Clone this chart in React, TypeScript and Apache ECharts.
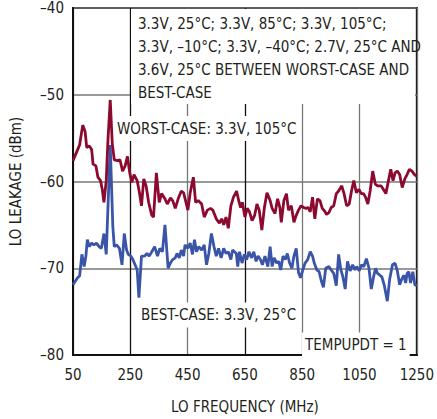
import React, { useEffect, useRef } from "react";
import * as echarts from "echarts";

const xTicks = [50, 250, 450, 650, 850, 1050, 1250];
const yTicks = [-80, -70, -60, -50, -40];

const worstFreq = [50, 64, 73, 84, 92, 98, 107, 115, 120, 130, 137, 146, 152, 158, 166, 172, 180, 187, 194, 206, 214, 223, 232, 240, 248, 255, 263, 274, 282, 289, 297, 305, 314, 325, 331, 341, 351, 359, 371, 379, 390, 398, 407, 417, 428, 436, 451, 459, 470, 478, 487, 499, 508, 519, 530, 538, 550, 561, 569, 576, 584, 592, 601, 610, 621, 629, 635, 641, 650, 658, 666, 675, 684, 692, 700, 709, 718, 727, 738, 745, 755, 764, 772, 777, 786, 795, 802, 812, 821, 829, 837, 846, 855, 863, 871, 878, 886, 894, 903, 912, 920, 928, 935, 943, 951, 960, 969, 977, 988, 996, 1005, 1014, 1022, 1030, 1039, 1048, 1056, 1064, 1071, 1079, 1087, 1096, 1105, 1113, 1125, 1133, 1142, 1151, 1159, 1167, 1174, 1182, 1190, 1199, 1208, 1216, 1224, 1233, 1242, 1250];
const worstLeak = [-57.6, -56.5, -55.8, -53.5, -54.2, -56.1, -55.9, -56.3, -58.0, -58.2, -59.5, -59.9, -60.9, -62.4, -59.9, -55.2, -50.6, -55.6, -57.5, -57.6, -57.5, -58.8, -58.2, -57.1, -59.0, -60.1, -59.2, -59.9, -61.3, -62.8, -59.7, -60.5, -62.4, -63.9, -64.1, -59.0, -62.4, -61.4, -62.0, -62.6, -61.9, -62.2, -63.1, -62.0, -61.1, -61.3, -63.3, -61.3, -59.5, -62.4, -62.2, -62.6, -64.1, -63.3, -63.1, -63.3, -64.3, -64.8, -64.3, -65.0, -64.1, -65.4, -62.8, -61.8, -61.1, -62.3, -63.0, -62.4, -64.1, -63.1, -63.5, -64.5, -63.9, -62.6, -63.3, -65.6, -63.0, -61.3, -62.2, -63.1, -63.7, -62.0, -63.0, -64.7, -62.2, -61.4, -63.3, -62.8, -64.7, -63.9, -63.3, -62.8, -63.0, -63.1, -63.0, -63.5, -61.8, -64.3, -62.0, -62.2, -63.1, -63.4, -63.8, -63.6, -63.0, -62.8, -61.4, -61.1, -60.5, -61.4, -62.8, -62.6, -61.1, -59.9, -61.3, -60.9, -61.4, -61.4, -61.8, -62.6, -61.1, -58.8, -60.3, -60.5, -60.5, -60.9, -61.4, -59.9, -58.6, -59.9, -59.0, -58.8, -59.2, -60.7, -59.7, -59.2, -58.6, -58.8, -59.2, -59.4];

const bestFreq = [50, 58, 66, 73, 81, 89, 95, 100, 107, 115, 123, 132, 141, 149, 158, 166, 180, 189, 194, 202, 212, 221, 229, 237, 243, 252, 259, 274, 280, 289, 300, 308, 316, 325, 335, 345, 353, 362, 371, 382, 390, 398, 407, 413, 421, 428, 436, 441, 451, 459, 467, 474, 481, 489, 499, 508, 516, 524, 533, 542, 550, 558, 567, 576, 584, 592, 601, 607, 620, 625, 631, 640, 648, 656, 664, 673, 681, 689, 696, 704, 711, 720, 730, 738, 745, 752, 761, 768, 775, 783, 791, 798, 806, 814, 821, 829, 837, 844, 852, 860, 869, 878, 886, 892, 901, 909, 917, 924, 932, 943, 951, 960, 969, 977, 985, 992, 1000, 1008, 1017, 1026, 1034, 1040, 1049, 1057, 1065, 1074, 1083, 1091, 1099, 1106, 1113, 1121, 1128, 1136, 1147, 1155, 1165, 1174, 1182, 1190, 1197, 1205, 1211, 1216, 1222, 1228, 1236, 1243, 1250];
const bestLeak = [-71.9, -71.5, -71.1, -70.9, -68.4, -69.8, -68.6, -66.7, -67.5, -67.1, -67.3, -67.1, -67.5, -67.7, -66.0, -68.4, -55.8, -65.2, -67.5, -67.3, -67.7, -69.6, -66.0, -67.9, -68.4, -68.6, -69.0, -70.2, -73.4, -68.6, -68.6, -68.3, -68.6, -68.1, -67.5, -68.6, -67.7, -68.1, -65.0, -70.0, -69.4, -69.0, -68.8, -68.3, -68.8, -67.9, -68.6, -67.3, -67.7, -67.1, -68.4, -66.7, -68.1, -67.5, -67.9, -67.3, -69.6, -68.3, -66.0, -67.5, -68.6, -67.7, -68.8, -67.7, -68.3, -68.1, -69.0, -67.9, -68.3, -69.8, -68.1, -69.4, -68.4, -69.0, -68.1, -68.8, -68.1, -69.2, -68.6, -69.0, -69.6, -68.6, -69.8, -67.5, -69.8, -68.8, -69.4, -69.2, -70.2, -68.6, -69.0, -68.3, -69.4, -70.0, -68.6, -67.7, -70.5, -71.1, -70.2, -69.4, -69.0, -68.1, -68.6, -69.4, -70.2, -70.4, -71.5, -72.2, -70.0, -69.8, -70.2, -70.6, -72.0, -68.4, -70.2, -71.0, -72.4, -69.2, -70.3, -69.6, -70.2, -69.8, -70.3, -69.6, -69.8, -68.9, -70.0, -72.4, -71.0, -70.0, -70.6, -70.8, -71.0, -71.9, -73.8, -71.3, -69.6, -69.4, -70.3, -71.9, -71.3, -70.8, -71.7, -70.6, -70.4, -71.7, -70.4, -71.9, -72.0];

const noteLines = [
  "3.3V, 25°C; 3.3V, 85°C; 3.3V, 105°C;",
  "3.3V, –10°C; 3.3V, –40°C; 2.7V, 25°C AND",
  "3.6V, 25°C BETWEEN WORST-CASE AND",
  "BEST-CASE",
];

const FONT = '"Liberation Sans Narrow", "DejaVu Sans Condensed", "Liberation Sans", sans-serif';
const TEXT = "#231f20";

export default function App() {
  const ref = useRef<HTMLDivElement>(null);
  useEffect(() => {
    if (!ref.current) return;
    const chart = echarts.init(ref.current, undefined, { renderer: "svg" });
    const fmt = (v: number) => String(v).replace("-", "–");
    const textEl = (text: string, x: number, y: number, bg: boolean) => ({
      type: "text",
      x,
      y,
      z: 5,
      style: {
        text,
        fill: TEXT,
        font: `15px ${FONT}`,
        verticalAlign: "middle",
        align: "left",
        backgroundColor: bg ? "#fff" : undefined,
        padding: bg ? [5, 3] : undefined,
      },
    });
    chart.setOption({
      animation: false,
      backgroundColor: "#fff",
      grid: {
        left: 69,
        right: 17,
        top: 8,
        bottom: 59,
        show: true,
        borderColor: "#111",
        borderWidth: 2,
        backgroundColor: "transparent",
      },
      xAxis: {
        type: "value",
        min: xTicks[0],
        max: xTicks[xTicks.length - 1],
        interval: 200,
        name: "LO FREQUENCY (MHz)",
        nameLocation: "middle",
        nameGap: 44,
        nameTextStyle: { fontFamily: FONT, fontSize: 15, color: TEXT },
        axisLine: { show: true, lineStyle: { color: "#111", width: 2 } },
        axisTick: { show: false },
        axisLabel: { fontFamily: FONT, fontSize: 15, color: TEXT, margin: 12, formatter: (v: number) => String(v) },
        splitLine: {
          show: true,
          lineStyle: {
            color: ["#777", "#111", "#777", "#111", "#777", "#777", "#777"],
            width: 1.3,
          },
        },
      },
      yAxis: {
        type: "value",
        min: yTicks[0],
        max: yTicks[yTicks.length - 1],
        interval: 10,
        name: "LO LEAKAGE (dBm)",
        nameLocation: "middle",
        nameGap: 50,
        nameTextStyle: { fontFamily: FONT, fontSize: 15, color: TEXT },
        axisLine: { show: true, lineStyle: { color: "#111", width: 2 } },
        axisTick: { show: false },
        axisLabel: { fontFamily: FONT, fontSize: 15, color: TEXT, margin: 9, formatter: fmt },
        splitLine: { show: true, lineStyle: { color: "#777", width: 1.5 } },
      },
      graphic: [
        { type: "rect", z: 4, shape: { x: 131, y: 9, width: 284, height: 95 }, style: { fill: "#fff" } },
        ...noteLines.map((t, i) => textEl(t, 138, 23.5 + i * 23, false)),
        textEl("WORST-CASE: 3.3V, 105°C", 114, 128.5, true),
        textEl("BEST-CASE: 3.3V, 25°C", 138, 315, true),
        textEl("TEMPUPDT = 1", 302, 345, true),
      ],
      series: [
        {
          name: "BEST-CASE",
          type: "line",
          data: bestFreq.map((f, i) => [f, bestLeak[i]]),
          showSymbol: false,
          lineStyle: { color: "#3a55a8", width: 2.8 },
          z: 6,
        },
        {
          name: "WORST-CASE",
          type: "line",
          data: worstFreq.map((f, i) => [f, worstLeak[i]]),
          showSymbol: false,
          lineStyle: { color: "#8c0a30", width: 2.8 },
          z: 7,
        },
      ],
    });
    return () => chart.dispose();
  }, []);
  return (
    <div
      ref={ref}
      style={{ position: "fixed", left: 0, top: 0, width: 437, height: 419, background: "#fff" }}
    />
  );
}
